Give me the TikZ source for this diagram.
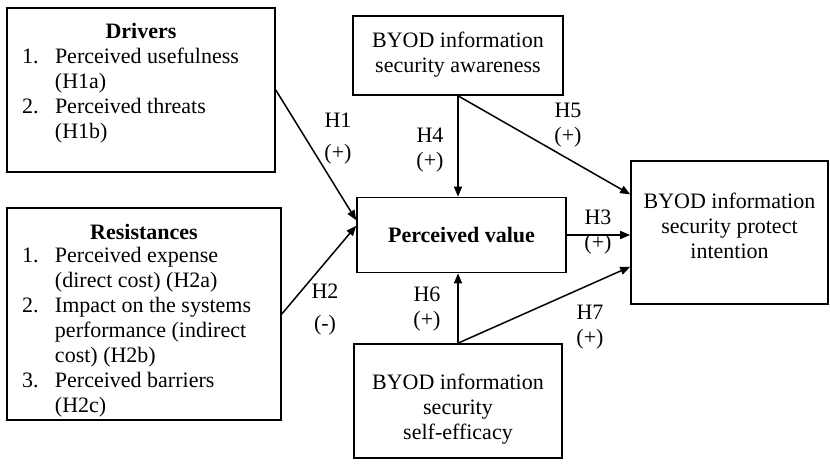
\documentclass[tikz,border=0pt]{standalone}
\usepackage{fontspec}
\setmainfont{Liberation Serif}
\usepackage{array}
\usetikzlibrary{arrows.meta}

\tikzset{
    caixa/.style={draw, line width=0.8pt, inner sep=0pt, align=center,
        font=\fontsize{11}{12.5}\selectfont},
    seta/.style={-{Triangle[length=5pt,width=4pt]}, line width=0.75pt},
    rotulo/.style={align=center, inner sep=0pt,
        font=\fontsize{11}{12.5}\selectfont}
}

\begin{document}
\begin{tikzpicture}[x=0.5pt,y=-0.5pt]
        \useasboundingbox (0,0) rectangle (830,465);

        % blocos da esquerda
        \node[caixa, minimum width=134pt, minimum height=82pt] (drivers) at (141,90) {%
            \begin{tabular}{@{}p{16.5pt}@{}p{102.5pt}@{}}
                \multicolumn{2}{@{}c@{}}{\textbf{Drivers}}\\
                1. & Perceived usefulness\\
                   & (H1a)\\
                2. & Perceived threats\\
                   & (H1b)\\
                   & \\[-6.25pt]
            \end{tabular}};
        \node[caixa, minimum width=137pt, minimum height=106pt] (resist) at (144,314) {%
            \begin{tabular}{@{}p{16.5pt}@{}p{105.5pt}@{}}
                \multicolumn{2}{@{}c@{}}{}\\[-6pt]
                \multicolumn{2}{@{}c@{}}{\textbf{Resistances}}\\[-1pt]
                1. & Perceived expense\\
                   & (direct cost) (H2a)\\
                2. & Impact on the systems\\
                   & performance (indirect\\
                   & cost) (H2b)\\
                3. & Perceived barriers\\
                   & (H2c)\\
            \end{tabular}};

        % blocos do meio e da direita
        \node[caixa, minimum width=105pt, minimum height=39.5pt] (aware) at (458,55.5)
            {BYOD information\\security awareness\\[-9.5pt]\mbox{}};
        \node[caixa, minimum width=104.5pt, minimum height=37.5pt] (pv) at (461.5,235)
            {\textbf{Perceived value}};
        \node[caixa, minimum width=104pt, minimum height=57pt] (self) at (458,401) {%
            \begin{tabular}{@{}c@{}}
                \\[-4.5pt]
                BYOD information\\
                security\\
                self-efficacy
            \end{tabular}};
        \node[caixa, minimum width=98.5pt, minimum height=71.5pt] (intent) at (729.5,232.5)
            {BYOD information\\security protect\\intention\\[-6pt]\mbox{}};

        % setas
        \draw[seta] (drivers.east) -- (pv.172);
        \draw[seta] (resist.east) -- (pv.175);
        \draw[seta] (aware.south) -- (aware.south |- pv.north);
        \draw[seta] (aware.south) -- (intent.159);
        \draw[seta] (pv.east) -- (pv.east -| intent.west);
        \draw[seta] (self.north) -- (self.north |- pv.south);
        \draw[seta] (self.north) -- (intent.199);

        % hipoteses
        \foreach \nome/\px/\py/\hip/\sinal/\esp in {
            h1/338/139/H1/+/3.5pt,
            h2/325/310/H2/-/3.5pt,
            h3/598/232.5/H3/+/0pt,
            h4/430/150/H4/+/0pt,
            h5/568/125.5/H5/+/0pt,
            h6/427/309.5/H6/+/0pt,
            h7/590/327.5/H7/+/0pt
        }{
            \node[rotulo] (\nome) at (\px,\py) {\hip\\[\esp](\sinal)};
        }
    \end{tikzpicture}
\end{document}
